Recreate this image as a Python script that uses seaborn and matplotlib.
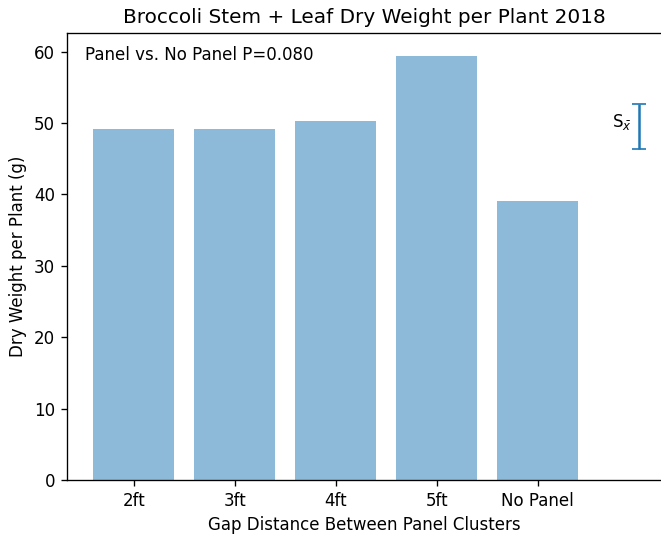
import pandas as pd
import matplotlib
matplotlib.use('Agg')
import matplotlib.pyplot as plt
import seaborn as sns

# Dry weight per plant (g)
gaps = ['2ft', '3ft', '4ft', '5ft', 'No Panel']
dry_weight = [49.2, 49.2, 50.3, 59.4, 39.1]

# Standard error marker drawn on the right
se_center = 49.5
se_half = 3.2

df = pd.DataFrame({'Gap': gaps, 'Weight': dry_weight})

# rendered at 120 dpi so text and lines come out a bit larger
fig = plt.figure(figsize=(661 / 120, 534 / 120), dpi=120)
ax = fig.add_axes([0.101, 0.101, 0.899, 0.837])

sns.barplot(x='Gap', y='Weight', data=df, color='#1f77b4', alpha=0.5,
            width=0.8, saturation=1, ax=ax)

ax.errorbar([5], [se_center], yerr=[se_half], color='#1f77b4', capsize=4)
ax.text(4.93, se_center + 0.6, r'S$_{\bar{x}}$', ha='right', va='center', fontsize=10)

ax.text(0.03, 0.95, 'Panel vs. No Panel P=0.080', transform=ax.transAxes,
        ha='left', va='center', fontsize=10)

ax.set_xlim(-0.663, 5.22)
ax.set_ylim(0, 62.6)
ax.spines['right'].set_visible(False)
ax.set_title('Broccoli Stem + Leaf Dry Weight per Plant 2018', fontsize=12)
ax.set_xlabel('Gap Distance Between Panel Clusters')
ax.set_ylabel('Dry Weight per Plant (g)')

fig.savefig('out.png', dpi=120)
